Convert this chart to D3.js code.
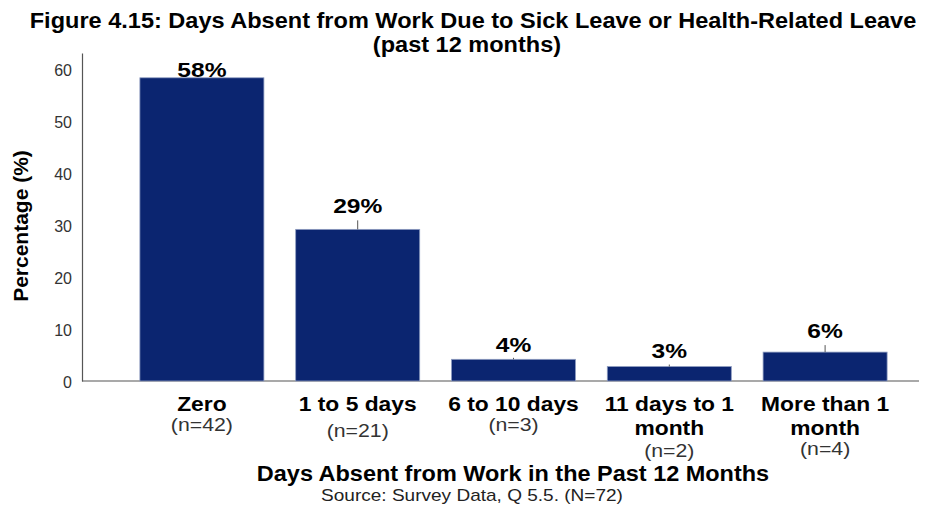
<!DOCTYPE html>
<html><head><meta charset="utf-8">
<script src="https://cdn.jsdelivr.net/npm/d3@7"></script>
<style>html,body{margin:0;padding:0;background:#fff;}svg{display:block;font-family:"Liberation Sans",Arial,sans-serif;}</style>
</head><body>
<script>
const categories = ["Zero", "1 to 5 days", "6 to 10 days", "11 days to 1 month", "More than 1 month"];
const categoryLines = [["Zero"], ["1 to 5 days"], ["6 to 10 days"], ["11 days to 1", "month"], ["More than 1", "month"]];
const counts = ["(n=42)", "(n=21)", "(n=3)", "(n=2)", "(n=4)"];
const percentages = [58.33, 29.17, 4.17, 2.78, 5.56];
const valueLabels = ["58%", "29%", "4%", "3%", "6%"];
const yTicks = [0, 10, 20, 30, 40, 50, 60];

const W = 934, H = 513;
const svg = d3.select("body").append("svg").attr("width", W).attr("height", H);

const x = d3.scaleBand().domain(categories).range([124, 903]).paddingInner(0.204).paddingOuter(0.102);
const y = d3.scaleLinear().domain([0, 63.1]).range([381, 53]);

function txt(g, xx, yy, s, size, weight, sx, fam) {
  return g.append("text").attr("transform", `translate(${xx},${yy}) scale(${sx},1)`)
    .attr("text-anchor", "middle").attr("font-size", size).attr("font-weight", weight)
    .attr("font-family", fam || null).attr("fill", "#000").text(s);
}

// title
txt(svg, 473, 28, "Figure 4.15: Days Absent from Work Due to Sick Leave or Health-Related Leave", 21.5, "bold", 1.095);
txt(svg, 467, 52, "(past 12 months)", 21.5, "bold", 1.095);

// y axis
const yAxis = svg.append("g").attr("transform", "translate(82,0)")
  .call(d3.axisLeft(y).tickValues(yTicks).tickSize(0).tickPadding(10));
yAxis.select(".domain").attr("stroke", "#555").attr("stroke-width", 1.2);
yAxis.selectAll(".tick text").attr("font-size", 16).attr("fill", "#333").attr("font-family", "Liberation Sans").attr("dy", "0.4em");

// x axis line
svg.append("line").attr("x1", 82).attr("x2", 919).attr("y1", y(0)).attr("y2", y(0)).attr("stroke", "#555").attr("stroke-width", 1.2);

// bars
svg.selectAll("rect.bar").data(percentages).join("rect").attr("class", "bar")
  .attr("x", (d, i) => x(categories[i])).attr("width", x.bandwidth())
  .attr("y", d => y(d)).attr("height", d => y(0) - y(d))
  .attr("fill", "#0b2570").attr("stroke", "#8e9cc0").attr("stroke-width", 0.8);

// label leader lines & labels
const labelLift = [1, 16, 7, 9, 14];
percentages.forEach((d, i) => {
  const cx = x(categories[i]) + x.bandwidth() / 2;
  const lift = labelLift[i];
  if (lift > 2) svg.append("line").attr("x1", cx).attr("x2", cx).attr("y1", y(d)).attr("y2", Math.min(y(d) - 1.5, y(d) - lift + 7)).attr("stroke", "#555").attr("stroke-width", 1);
  txt(svg, cx, y(d) - lift, valueLabels[i], 21, "bold", 1.17);
});

// category labels
const countBase = [431, 437, 431, 457, 455];
categoryLines.forEach((lines, i) => {
  const cx = x(categories[i]) + x.bandwidth() / 2;
  lines.forEach((l, j) => txt(svg, cx, 411 + j * 24, l, 19.5, "bold", 1.17));
  txt(svg, cx, countBase[i], counts[i], 18.5, "normal", 1.15).attr("fill", "#333");
});

// x title
txt(svg, 513, 481, "Days Absent from Work in the Past 12 Months", 22, "bold", 1.067);
txt(svg, 472, 501, "Source: Survey Data, Q 5.5. (N=72)", 17, "normal", 1.12).attr("fill", "#222");

// y title
svg.append("text").attr("transform", `translate(28,226) rotate(-90)`).attr("text-anchor", "middle")
  .attr("font-size", 21).attr("font-weight", "bold").text("Percentage (%)");
</script>
</body></html>
